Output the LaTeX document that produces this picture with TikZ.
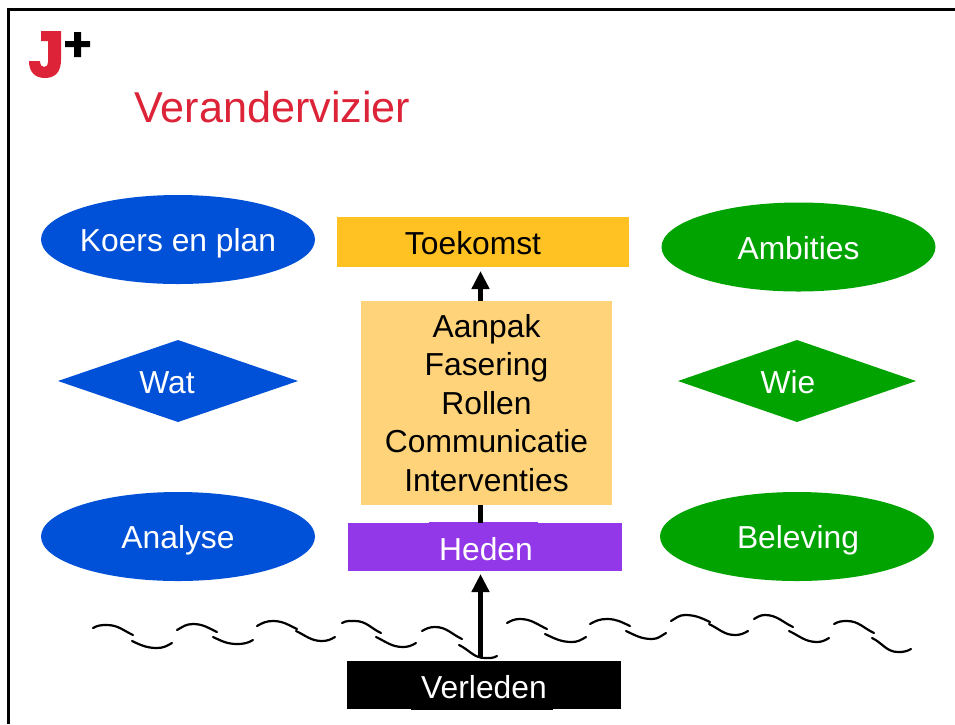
\documentclass[tikz,border=0pt]{standalone}
\usepackage{fontspec}
\setmainfont{Liberation Sans}
\usetikzlibrary{shapes.geometric,arrows.meta}
\definecolor{jred}{HTML}{DC2337}
\definecolor{jblue}{HTML}{0050D8}
\definecolor{jgreen}{HTML}{00A300}
\definecolor{jpurple}{HTML}{9338E8}
\definecolor{jorange}{HTML}{FFC222}
\definecolor{jlight}{HTML}{FFD37A}
\newcommand{\wavepeak}[3]{\draw[waveline] #1 to[out=30,in=180] #2 to[out=0,in=155] #3;}
\newcommand{\wavetrough}[3]{\draw[waveline] #1 to[out=-25,in=180] #2 to[out=0,in=210] #3;}
\newcommand{\lowered}[2]{\makebox[0pt]{\raisebox{-#1pt}[\height][\depth]{#2}}}
\tikzset{
  x=1pt,y=-1pt,
  lbl/.style={font=\fontsize{31.8}{38.4}\selectfont,inner sep=0pt,outer sep=0pt,align=center},
  oval/.style={lbl,ellipse,minimum width=274pt,minimum height=89pt,text=white},
  rhomb/.style={lbl,diamond,aspect=2.9,minimum height=82pt,text=white},
  band/.style={lbl,rectangle,minimum width=274pt,minimum height=48pt},
  waveline/.style={line width=2.2pt,line cap=round,black},
  bigarrow/.style={line width=5.5pt,-{Triangle[length=18pt,width=17pt]},black}
}
\begin{document}
\begin{tikzpicture}
\useasboundingbox[fill=white] (0,0) rectangle (955,724);
% frame
\draw[line width=2.6pt,black] (8.6,724) -- (8.6,9.5) -- (955,9.5);
% logo
\fill[jred] (41,31) -- (61,31) -- (61,60) .. controls (61,72) and (55,78) .. (45,78)
  .. controls (35,78) and (29,72) .. (29,61) -- (40,61) .. controls (40,65) and (42,67) .. (44,67)
  .. controls (47,67) and (48,65) .. (48,62) -- (48,41) -- (41,41) -- cycle;
\fill[black] (65,41) -- (74,41) -- (74,32) -- (81,32) -- (81,41) -- (90,41) -- (90,47) -- (81,47)
  -- (81,57) -- (74,57) -- (74,47) -- (65,47) -- cycle;
\node[anchor=base west,inner sep=0pt,text=jred,font=\fontsize{43.2}{50}\selectfont] (title) at (134,122) {Verandervizier};
% arrow anchor columns
\coordinate (acol) at (480.5,0);
\coordinate (vstart) at (480.5,657);
% ovals
\node[oval,fill=jblue] (koers) at (178,239.5) {\lowered{3.5}{Koers en plan}};
\node[oval,fill=jgreen] (ambities) at (798.5,247) {\lowered{1}{Ambities}};
\node[oval,fill=jblue] (analyse) at (178,536.5) {\lowered{3.5}{Analyse}};
\node[oval,fill=jgreen] (beleving) at (797,536.5) {\hspace*{2pt}\lowered{3.5}{Beleving}};
% diamonds
\node[rhomb,fill=jblue,minimum width=240pt] (wat) at (178,381) {\hspace*{-22pt}\lowered{2}{Wat}};
\node[rhomb,fill=jgreen,minimum width=238pt] (wie) at (797,381) {\hspace*{-18pt}\lowered{1.5}{Wie}};
% bands
\node[band,fill=jorange,text=black,minimum width=292pt,minimum height=50pt] (toekomst) at (483,242) {\hspace*{-20pt}\lowered{1.5}{Toekomst}};
\node[band,fill=jpurple,text=white] (heden) at (485,547) {\hspace*{2pt}\lowered{2}{Heden}};
\fill[jpurple] (429,522) rectangle (538,524);
\node[band,fill=black,text=white] (verleden) at (484,685) {\lowered{2}{Verleden}};
\fill[black] (411,708) rectangle (553,710);
% arrow behind the central block
\draw[bigarrow] (heden.north -| acol) -- ([yshift=-4pt]toekomst.south -| acol);
% central block
\node[lbl,fill=jlight,text=black,minimum width=251pt,minimum height=204pt] (aanpak) at (486.5,403)
  {Aanpak\\Fasering\\Rollen\\Communicatie\\Interventies};
% lower arrow
\draw[bigarrow] (vstart) -- ([yshift=-3pt]heden.south -| acol);
% left wave
\wavepeak{(93,628)}{(107,625)}{(133,635)}
\wavetrough{(132,641)}{(157,648)}{(172,643)}
\wavepeak{(177,630)}{(193,624)}{(217,632)}
\wavetrough{(213,637)}{(237,644)}{(253,640)}
\wavepeak{(257,626)}{(273,621)}{(297,629)}
\wavetrough{(296,631)}{(322,641)}{(335,637)}
\wavepeak{(342,623)}{(355,621)}{(381,633)}
\wavetrough{(376,637)}{(403,647)}{(416,643)}
\wavepeak{(422,631)}{(435,627)}{(462,639)}
\wavetrough{(459,645)}{(485,658)}{(497,656)}
% right wave
\wavepeak{(507,623)}{(520,619)}{(547,629)}
\wavetrough{(545,634)}{(572,642)}{(586,637)}
\wavepeak{(590,624)}{(607,619)}{(630,626)}
\wavetrough{(626,631)}{(652,639)}{(666,633)}
\wavepeak{(671,621)}{(685,615)}{(710,622)}
\wavetrough{(709,624)}{(735,635)}{(748,631)}
\wavepeak{(754,619)}{(765,615)}{(793,627)}
\wavetrough{(789,631)}{(817,642)}{(829,638)}
\wavepeak{(834,624)}{(847,621)}{(874,633)}
\wavetrough{(872,638)}{(898,652)}{(911,649)}
\end{tikzpicture}
\end{document}
